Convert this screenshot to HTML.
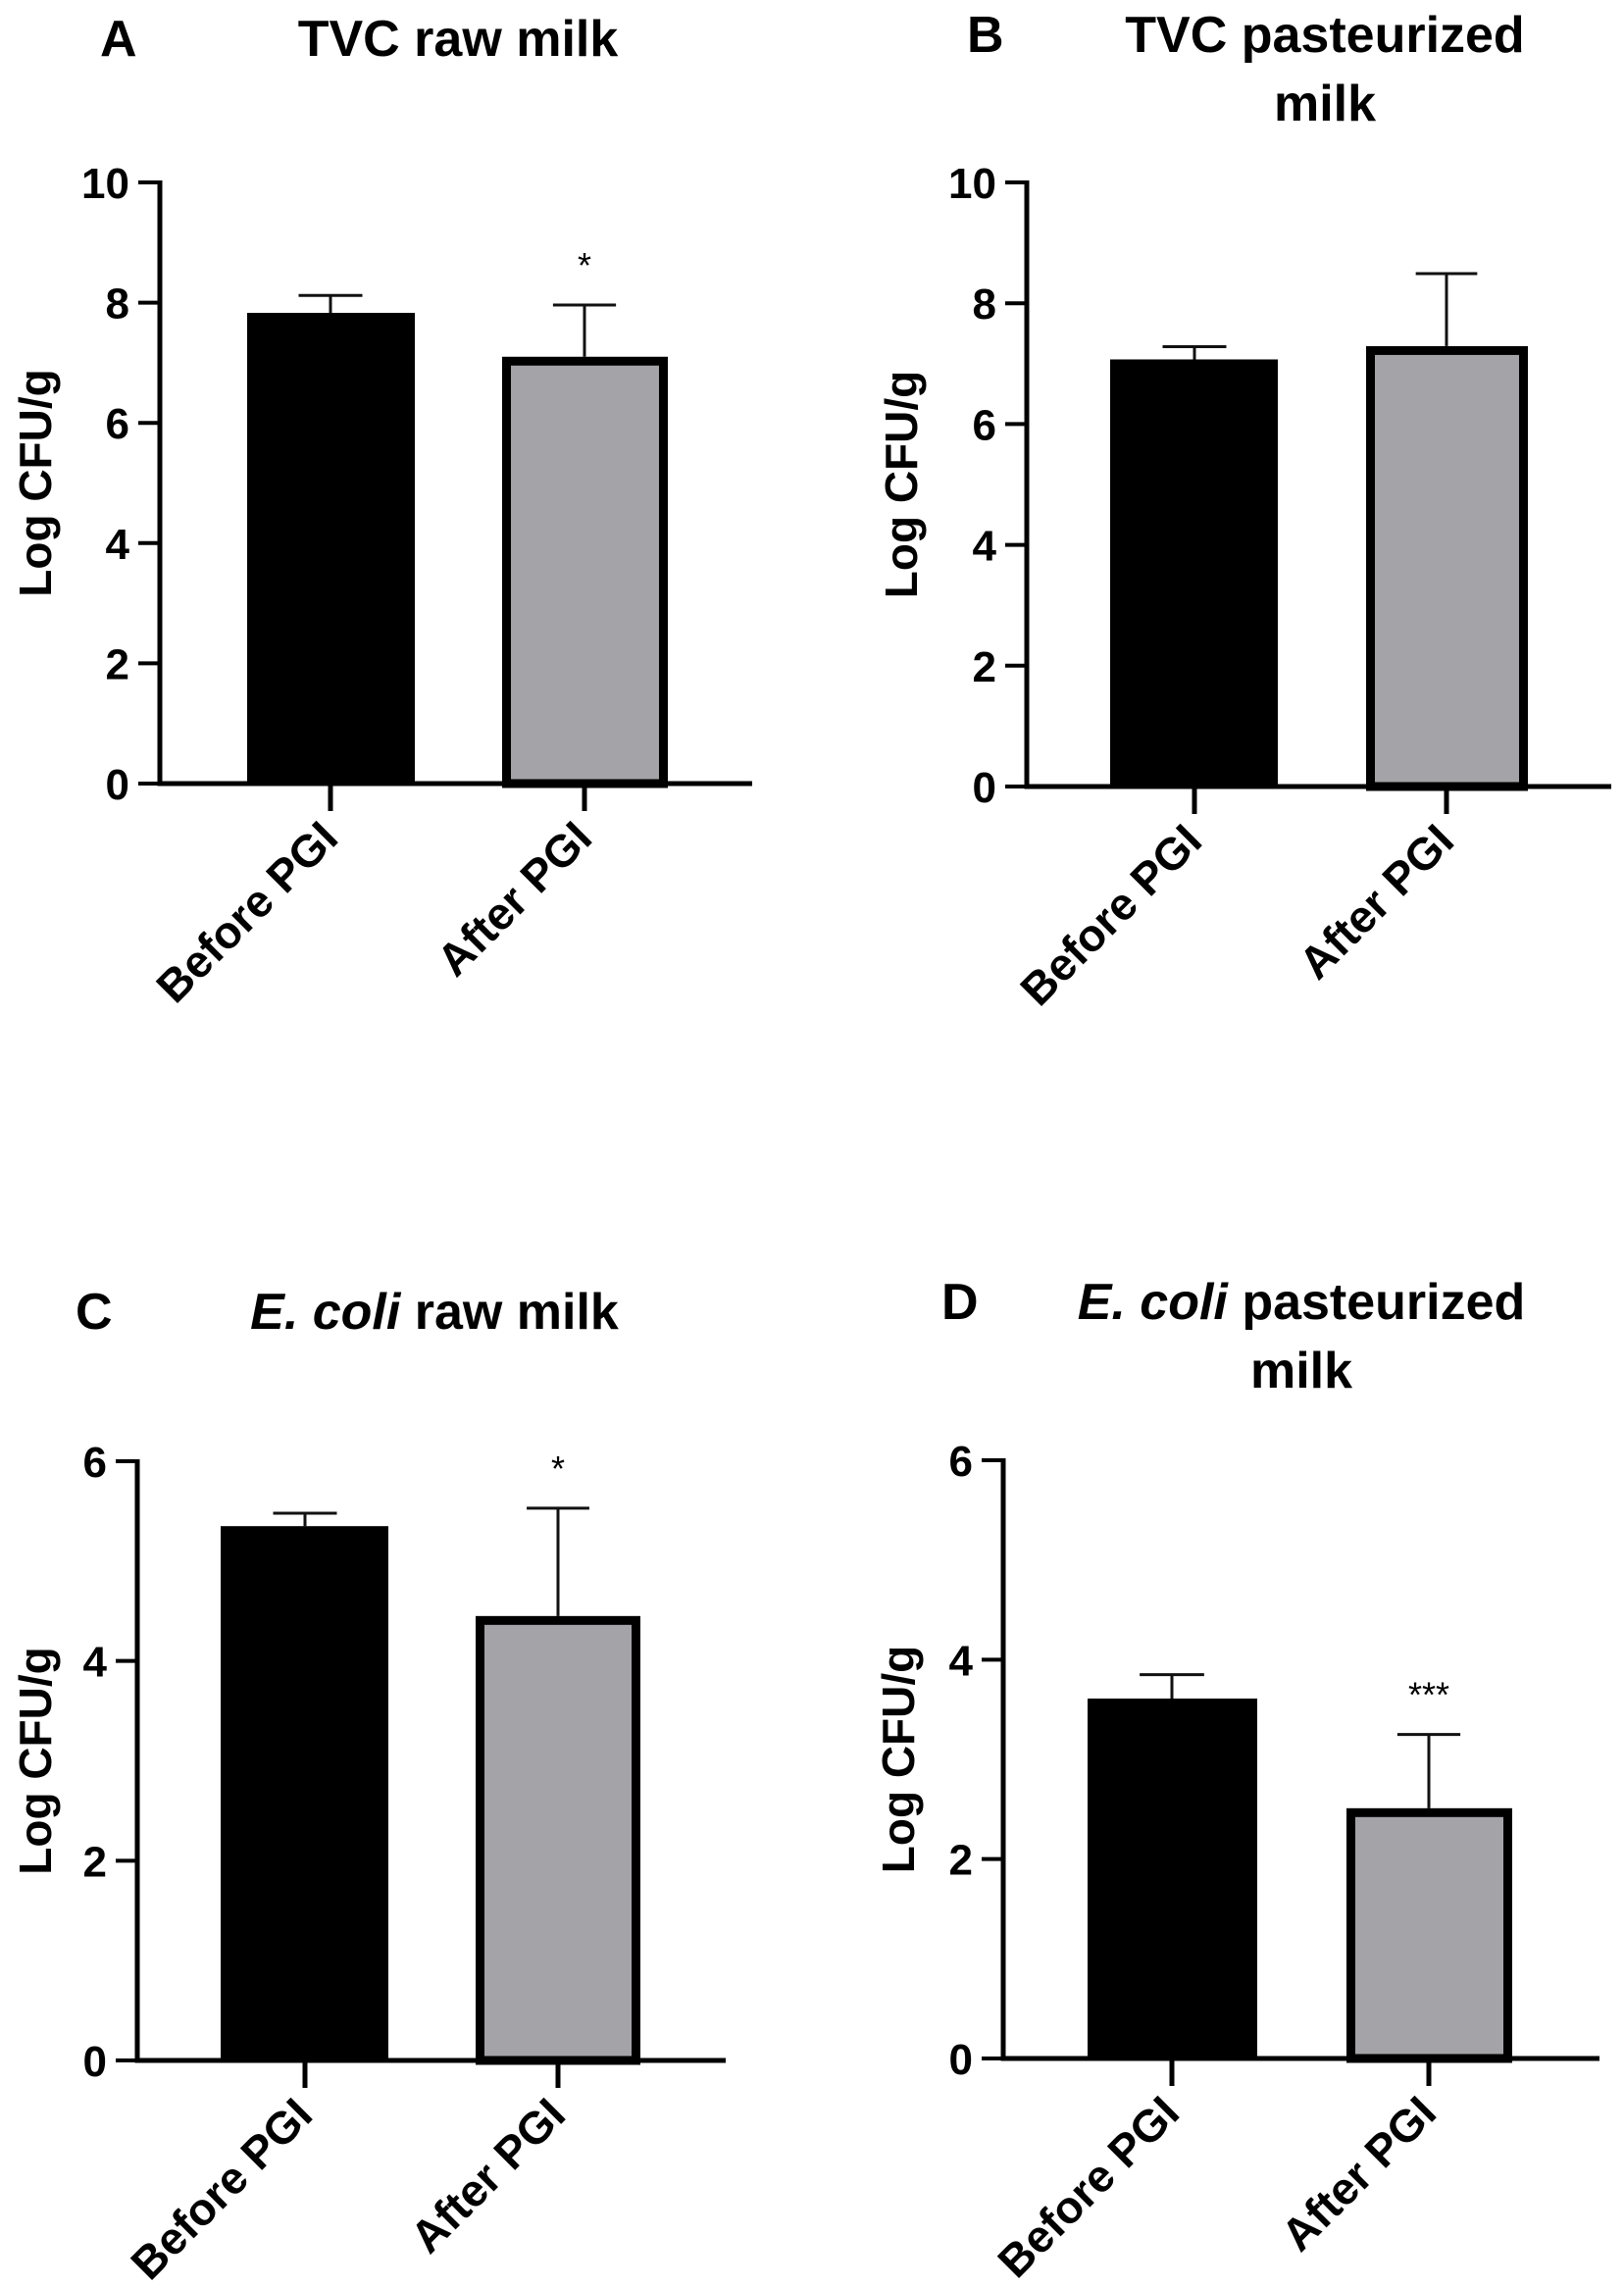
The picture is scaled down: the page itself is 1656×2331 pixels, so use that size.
<!DOCTYPE html>
<html><head><meta charset="utf-8"><style>
html,body{margin:0;padding:0;background:#fff}
svg{display:block;font-family:"Liberation Sans",Arial,sans-serif;font-weight:bold}
</style></head><body>
<svg id="fig" width="1656" height="2331" viewBox="0 0 1656 2331" xmlns="http://www.w3.org/2000/svg"></svg>
<script>
const categories = ["Before PGI", "After PGI"];
const meansA = [7.83, 7.10];
const errA = [8.12, 7.96];
const meansB = [7.07, 7.29];
const errB = [7.28, 8.49];
const meansC = [5.35, 4.45];
const errC = [5.48, 5.53];
const meansD = [3.61, 2.51];
const errD = [3.85, 3.25];
const ticksTVC = [0, 2, 4, 6, 8, 10];
const ticksEcoli = [0, 2, 4, 6];
const sigA = ["", "*"], sigB = ["", ""], sigC = ["", "*"], sigD = ["", "***"];

const NS = "http://www.w3.org/2000/svg";
const svg = document.getElementById("fig");
function mk(tag, attrs, parent, txt){
  const e = document.createElementNS(NS, tag);
  for (const k in attrs) e.setAttribute(k, attrs[k]);
  if (txt !== undefined) e.textContent = txt;
  (parent || svg).appendChild(e);
  return e;
}

const panels = [
  {id:"a", letter:"A", lx:102, ly:57, title:[["TVC raw milk",""]], tx:467, ty:57,
   ax:163, y0:799, ytop:186, xend:767, bars:[[252,423],[512,681]], cat:[337,596],
   ymax:10, ticks:ticksTVC, means:meansA, err:errA, sig:sigA, ytx:52},
  {id:"b", letter:"B", lx:986, ly:53, title:[["TVC pasteurized",""],["milk",""]], tx:1351, ty:53,
   ax:1047, y0:802, ytop:186, xend:1643, bars:[[1132,1303],[1393,1558]], cat:[1218,1475],
   ymax:10, ticks:ticksTVC, means:meansB, err:errB, sig:sigB, ytx:935},
  {id:"c", letter:"C", lx:77, ly:1355, title:[["raw milk","E. coli"]], tx:443, ty:1355,
   ax:140, y0:2101, ytop:1490, xend:740, bars:[[225,396],[485,653]], cat:[311,569],
   ymax:6, ticks:ticksEcoli, means:meansC, err:errC, sig:sigC, ytx:52},
  {id:"d", letter:"D", lx:960, ly:1345, title:[["pasteurized","E. coli"],["milk",""]], tx:1327, ty:1345,
   ax:1023, y0:2099, ytop:1489, xend:1631, bars:[[1109,1282],[1373,1542]], cat:[1195,1457],
   ymax:6, ticks:ticksEcoli, means:meansD, err:errD, sig:sigD, ytx:932}
];

panels.forEach(p => {
  const g = mk("g", {});
  
  
  const yS = v => p.y0 - (v / p.ymax) * (p.y0 - p.ytop);

  const L = mk("text", {x:p.lx, y:p.ly, "font-size":52}, g, p.letter);
  
  

  p.title.forEach((ln, i) => {
    const t = mk("text", {x:p.tx, y:p.ty + i*70, "font-size":52, "text-anchor":"middle"}, g);
    
    
    if (ln[1]) { mk("tspan", {"font-style":"italic"}, t, ln[1] + " "); }
    mk("tspan", {}, t, ln[0]);
  });

  p.means.forEach((m, i) => {
    const [x1, x2] = p.bars[i];
    const cx = p.cat[i];
    const half = (x2 - x1) * 0.19;
    const eb = mk("path", {d:`M${cx},${yS(m)} V${yS(p.err[i])} M${cx-half},${yS(p.err[i])} H${cx+half}`, stroke:"#111", "stroke-width":3, fill:"none"}, g);
    
    
    let r;
    if (i === 0) {
      r = mk("rect", {x:x1, y:yS(m), width:x2-x1, height:p.y0-yS(m), fill:"#000"}, g);
    } else {
      r = mk("rect", {x:x1+4.5, y:yS(m)+4.5, width:x2-x1-9, height:p.y0-yS(m)-4.5, fill:"#a4a3a8", stroke:"#000", "stroke-width":9}, g);
    }
    
    
    if (p.sig[i]) {
      const s = mk("text", {x:cx, y:yS(p.err[i]) - 28, "font-size":36, "font-weight":"normal", "text-anchor":"middle"}, g, p.sig[i]);
      
      
    }
  });

  const ya = mk("line", {x1:p.ax, y1:p.ytop-2, x2:p.ax, y2:p.y0+2.5, stroke:"#000", "stroke-width":5}, g);
  
  
  const xa = mk("line", {x1:p.ax-2.5, y1:p.y0, x2:p.xend, y2:p.y0, stroke:"#000", "stroke-width":5}, g);
  
  

  p.ticks.forEach(v => {
    const y = yS(v);
    const tk = mk("line", {x1:p.ax-22, y1:y, x2:p.ax, y2:y, stroke:"#000", "stroke-width":4}, g);
    
    
    const tl = mk("text", {x:p.ax-31, y:y+16, "font-size":44, "text-anchor":"end"}, g, String(v));
    
    
  });

  categories.forEach((c, i) => {
    const cx = p.cat[i];
    const tk = mk("line", {x1:cx, y1:p.y0, x2:cx, y2:p.y0+28, stroke:"#000", "stroke-width":5}, g);
    
    
    const tx = cx + 10, ty = p.y0 + 58;
    const tl = mk("text", {x:tx, y:ty, "font-size":46, "text-anchor":"end", transform:`rotate(-45 ${tx} ${ty})`}, g, c);
    
    
  });

  const yc = (p.y0 + p.ytop) / 2;
  const yt = mk("text", {x:p.ytx, y:yc, "font-size":46, "text-anchor":"middle", transform:`rotate(-90 ${p.ytx} ${yc})`}, g, "Log CFU/g");
  
  
});
</script>
</body></html>
